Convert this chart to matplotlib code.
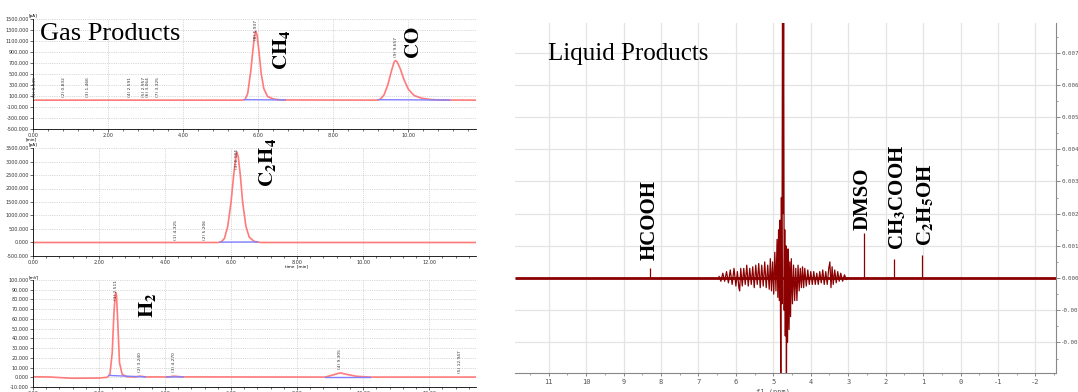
import matplotlib
matplotlib.use('Agg')
import matplotlib.pyplot as plt
import numpy as np
from matplotlib.ticker import MultipleLocator, FormatStrFormatter

plt.rcParams['mathtext.fontset'] = 'stix'

W, H = 1078, 392

# ---- GC channel 1 (CH4, CO), [pA]
ch1_time = [0.0, 5.55, 5.65, 5.72, 5.80, 5.86, 5.90, 5.937, 5.97, 6.02, 6.08, 6.15, 6.25, 6.40, 6.60,
            9.15, 9.25, 9.35, 9.45, 9.55, 9.62, 9.657, 9.70, 9.78, 9.88, 10.0, 10.15, 10.35, 10.6, 10.9, 11.8]
ch1_signal = [25, 25, 35, 150, 550, 950, 1200, 1280, 1200, 900, 500, 230, 90, 45, 28,
              25, 40, 120, 300, 560, 720, 745, 720, 600, 400, 220, 110, 60, 35, 27, 25]
ch1_base = [(5.63, 6.72), (9.20, 11.10)]
ch1_peak_rt = [0.049, 0.832, 1.466, 2.591, 2.957, 3.064, 3.325, 5.937, 9.657]
ch1_peak_lbl = ['(1) 0.049', '(2) 0.832', '(3) 1.466', '(4) 2.591', '(5) 2.957',
                '(6) 3.064', '(7) 3.325', '(8) 5.937', '(9) 9.657']

# ---- GC channel 2 (C2H4), [pA]
ch2_time = [0.0, 5.6, 5.7, 5.8, 5.9, 6.0, 6.08, 6.14, 6.18, 6.22, 6.28, 6.35, 6.45, 6.55, 6.7, 6.9, 13.4]
ch2_signal = [0, 0, 20, 150, 600, 1500, 2500, 3150, 3350, 3150, 2500, 1500, 600, 200, 40, 0, 0]
ch2_base = [(5.67, 6.80)]
ch2_peak_rt = [4.325, 5.206, 6.184]
ch2_peak_lbl = ['(1) 4.325', '(2) 5.206', '(3) 6.184']

# ---- GC channel 3 (H2), [mV]
ch3_time = [0.0, 0.5, 0.9, 1.2, 2.0, 2.25, 2.33, 2.40, 2.45, 2.49, 2.511, 2.53, 2.57, 2.62, 2.70, 2.85,
            3.10, 3.24, 3.40, 4.10, 4.27, 4.50, 8.85, 9.10, 9.305, 9.50, 9.80, 10.2, 13.4]
ch3_signal = [0.5, 0.3, -0.5, -1.0, -0.8, 0.0, 3, 25, 65, 85, 87, 84, 55, 15, 3, 0.5,
              0.3, 1.2, 0.4, 0.3, 1.2, 0.4, 0.2, 2.5, 4.5, 3.0, 1.0, 0.2, 0.2]
ch3_base = [(2.30, 3.40), (4.05, 4.55), (8.85, 10.20)]
ch3_peak_rt = [2.511, 3.240, 4.270, 9.305, 12.947]
ch3_peak_lbl = ['(1) 2.511', '(2) 3.240', '(3) 4.270', '(4) 9.305', '(5) 12.947']

# ---- 1H NMR (liquid products), intensities in units of 1e-4
nmr_noise_e4 = [(6.45, 0.5), (6.40, -1), (6.35, 1.5), (6.30, -1), (6.25, 2), (6.20, -1.5), (6.15, 2.5),
                (6.10, -2), (6.05, 3), (6.00, -2.5), (5.96, 2), (5.92, -3), (5.90, -4), (5.87, 3),
                (5.83, -2.5), (5.79, 3), (5.75, -2), (5.71, 4), (5.67, -2.5), (5.63, 3), (5.59, -2),
                (5.55, 3.5), (5.51, -3), (5.47, 4), (5.43, -2), (5.39, 4.5), (5.35, -3), (5.31, 4),
                (5.27, -2.5), (5.23, 5), (5.19, -3), (5.15, 4), (5.11, -3.5), (5.08, 6), (5.05, -4),
                (5.02, 5), (4.99, -5), (4.96, 8), (4.93, -4), (4.90, 12), (4.88, -6), (4.86, 15),
                (4.84, -7), (4.82, 18), (4.80, -35), (4.785, 25), (4.77, -8), (4.755, 90), (4.74, 20),
                (4.725, 90), (4.71, -10), (4.695, 15), (4.68, -18), (4.665, 10), (4.65, -35), (4.635, 9),
                (4.62, -20), (4.60, 9), (4.58, -16), (4.56, 5), (4.54, -12), (4.52, 6), (4.49, -8),
                (4.46, 4), (4.43, -7), (4.40, 3), (4.37, -7), (4.34, 4), (4.31, -4), (4.28, 3),
                (4.25, -3), (4.22, 3.5), (4.19, -3), (4.16, 3), (4.12, -2.5), (4.08, 2.5), (4.04, -2),
                (4.00, 2), (3.96, -2), (3.92, 2), (3.88, -2), (3.84, 1.5), (3.80, -2), (3.76, 2),
                (3.72, -1.5), (3.68, 2.5), (3.64, -2), (3.60, 2), (3.56, -2), (3.52, 3), (3.49, 5),
                (3.46, -3), (3.43, 3.5), (3.40, -2), (3.36, 2.5), (3.32, -1.5), (3.28, 2), (3.24, -1),
                (3.20, 1.5), (3.15, -1), (3.10, 1), (3.05, -0.5), (3.00, 0)]
nmr_peak_ppm = [8.30, 2.58, 1.78, 1.02]
nmr_peak_int = [0.0003, 0.0014, 0.0006, 0.0007]
nmr_names = ['HCOOH', 'DMSO', r'CH$_\mathbf{3}$COOH', r'C$_\mathbf{2}$H$_\mathbf{5}$OH']

fig = plt.figure(figsize=(W / 100, H / 100), dpi=100)


def px_rect(left, top, right, bottom):
    return [left / W, 1 - bottom / H, (right - left) / W, (bottom - top) / H]


def draw_gc(rect, t, sig, base, prt, plbl, ylim, yticks, xmax, unit, pad, span, xunit, xunit_x):
    ax = fig.add_axes(rect)
    ax.set_xlim(0, xmax)
    ax.set_ylim(*ylim)
    ax.plot(t, sig, color='#ff7a7a', lw=1.2)
    for a, b in base:
        ax.plot([a, b], [np.interp(a, t, sig), np.interp(b, t, sig)], color='#7f7fff', lw=1.0)
    for rt, lbl in zip(prt, plbl):
        y = min(np.interp(rt, t, sig) + pad, ylim[1] - span)
        ax.text(rt, y, lbl, rotation=90, fontsize=3.2, ha='center', va='bottom', color='#333333')
    ax.set_yticks(yticks)
    ax.yaxis.set_major_formatter(FormatStrFormatter('%.3f'))
    ax.xaxis.set_major_locator(MultipleLocator(2))
    ax.xaxis.set_minor_locator(MultipleLocator(0.4))
    ax.xaxis.set_major_formatter(FormatStrFormatter('%.2f'))
    ax.tick_params(labelsize=3.5, length=2, width=0.5, pad=1, colors='#333333')
    ax.tick_params(which='minor', length=1.2, width=0.4)
    for s in ['top', 'right']:
        ax.spines[s].set_visible(False)
    for s in ['left', 'bottom']:
        ax.spines[s].set_linewidth(0.6)
    ax.grid(True, ls=':', lw=0.5, color='#b5b5b5')
    ax.set_axisbelow(True)
    ax.text(-0.01, 1.01, unit, transform=ax.transAxes, fontsize=3, ha='left', va='bottom')
    ax.text(xunit_x, -0.075, xunit, transform=ax.transAxes, fontsize=3, ha='center', va='top')
    return ax


draw_gc(px_rect(33, 19, 476, 129), ch1_time, ch1_signal, ch1_base, ch1_peak_rt, ch1_peak_lbl,
        (-500, 1500), np.arange(-500, 1501, 200), 11.8, '[pA]', 60, 380, '[min]', -0.005)
draw_gc(px_rect(33, 148, 476, 256), ch2_time, ch2_signal, ch2_base, ch2_peak_rt, ch2_peak_lbl,
        (-500, 3500), np.arange(-500, 3501, 500), 13.42, '[pA]', 75, 780, 'time  [min]', 0.595)
draw_gc(px_rect(33, 280, 476, 387), ch3_time, ch3_signal, ch3_base, ch3_peak_rt, ch3_peak_lbl,
        (-10, 100), np.arange(-10, 101, 10), 13.42, '[mV]', 4, 21, '', 0.0)

# ---- NMR panel
ax = fig.add_axes(px_rect(515, 23, 1056, 373))
red = '#8b0000'
ax.plot([11.9, -2.55], [0, 0], color=red, lw=2.0, solid_capstyle='butt')
ax.plot([p for p, v in nmr_noise_e4], [v * 1e-4 for p, v in nmr_noise_e4], color=red, lw=0.9)
ax.vlines(nmr_peak_ppm, 0, nmr_peak_int, color=red, lw=0.9)
ax.set_xlim(11.9, -2.55)
ax.set_ylim(-0.00295, 0.00792)
ax.xaxis.set_major_locator(MultipleLocator(1))
ax.xaxis.set_minor_locator(MultipleLocator(0.5))
ax.yaxis.set_major_locator(MultipleLocator(0.001))
ax.yaxis.set_minor_locator(MultipleLocator(0.0005))
ax.yaxis.set_major_formatter(FormatStrFormatter('%.3f'))
ax.xaxis.set_major_formatter(FormatStrFormatter('%d'))
ax.yaxis.tick_right()
ax.tick_params(axis='x', labelsize=5, length=2.5, width=0.5, pad=1.5, colors='#555555')
ax.tick_params(axis='y', labelsize=4.2, length=3, width=0.5, pad=0.8, colors='#555555')
ax.tick_params(which='minor', length=1.5, width=0.4, colors='#555555')
for lab in ax.get_xticklabels() + ax.get_yticklabels():
    lab.set_family('DejaVu Sans Mono')
for s in ['top', 'left']:
    ax.spines[s].set_visible(False)
for s in ['bottom', 'right']:
    ax.spines[s].set_color('#888888')
    ax.spines[s].set_linewidth(0.8)
ax.grid(True, color='#e4e4e4', lw=0.9)
ax.set_axisbelow(True)
ax.text(5.0, -0.045, 'f1 (ppm)', transform=ax.get_xaxis_transform(), fontsize=5,
        ha='center', va='top', color='#555555', family='DejaVu Sans Mono')


def ftext(px, py, s, **kw):
    fig.text(px / W, 1 - py / H, s, **kw)


serif = 'Liberation Serif'
ftext(40, 40, 'Gas Products', fontsize=19, family=serif, va='baseline')
ftext(548, 60, 'Liquid Products', fontsize=18, family=serif, va='baseline')

lab_kw = dict(rotation=90, ha='center', va='center', fontsize=15, color='black')
ftext(282, 50, r'$\mathbf{CH_4}$', **lab_kw)
ftext(413, 43, r'$\mathbf{CO}$', **lab_kw)
ftext(267, 162, r'$\mathbf{C_2H_4}$', **lab_kw)
ftext(147, 305, r'$\mathbf{H_2}$', **lab_kw)

nmr_lab_pos = [(650, 220), (863, 199), (898, 197), (926, 205)]
for (px, py), name in zip(nmr_lab_pos, nmr_names):
    ftext(px, py, name, rotation=90, ha='center', va='center', fontsize=15,
          family=serif, fontweight='bold')

fig.savefig('out.png', dpi=100)
